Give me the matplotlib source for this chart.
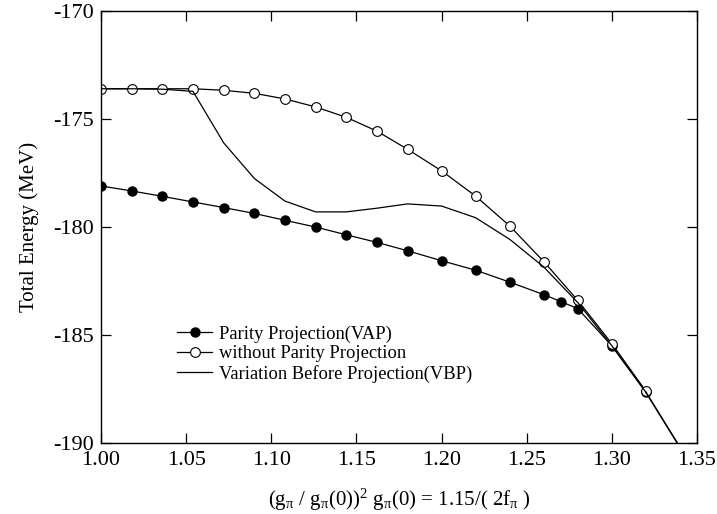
import matplotlib
matplotlib.use("Agg")
import matplotlib.pyplot as plt

plt.rcParams['font.family'] = ['Liberation Serif', 'DejaVu Serif']
plt.rcParams['mathtext.fontset'] = 'custom'
plt.rcParams['mathtext.rm'] = 'Liberation Serif'
plt.rcParams['mathtext.it'] = 'Liberation Serif'
plt.rcParams['axes.unicode_minus'] = False

# Parity projection (VAP)
vap_x = [1.00, 1.018, 1.036, 1.054, 1.072, 1.09, 1.108, 1.126, 1.144, 1.162,
         1.18, 1.20, 1.22, 1.24, 1.26, 1.27, 1.28, 1.30, 1.32]
vap_y = [-178.1, -178.33, -178.58, -178.84, -179.1, -179.37, -179.69, -180.0, -180.36, -180.71,
         -181.1, -181.56, -182.0, -182.55, -183.13, -183.45, -183.78, -185.5, -187.65]

# without parity projection
nop_x = [1.00, 1.018, 1.036, 1.054, 1.072, 1.09, 1.108, 1.126, 1.144, 1.162,
         1.18, 1.20, 1.22, 1.24, 1.26, 1.28, 1.30, 1.32]
nop_y = [-173.6, -173.6, -173.6, -173.6, -173.67, -173.81, -174.07, -174.44, -174.92, -175.56,
         -176.4, -177.4, -178.57, -179.95, -181.6, -183.4, -185.4, -187.6]

# variation before projection (VBP)
vbp_x = [1.00, 1.018, 1.036, 1.054, 1.072, 1.09, 1.108, 1.126, 1.144, 1.162,
         1.18, 1.20, 1.22, 1.24, 1.26, 1.28, 1.30, 1.32]
vbp_y = [-173.6, -173.6, -173.62, -173.72, -176.1, -177.75, -178.8, -179.3, -179.3, -179.13,
         -178.93, -179.03, -179.57, -180.57, -181.85, -183.5, -185.5, -187.65]

# common tail running off the bottom of the frame
tail_x = [1.32, 1.34]
tail_y = [-187.65, -190.2]

fig = plt.figure(figsize=(7.17, 5.14), dpi=100)
ax = fig.add_axes([0.1409, 0.1381, 0.8312, 0.8405])

ax.plot(vap_x, vap_y, color='black', lw=0.9, marker='o', ms=6.5,
        mfc='black', mec='black', label='Parity Projection(VAP)')
ax.plot(nop_x, nop_y, color='black', lw=0.9, marker='o', ms=7,
        mfc='white', mec='black', mew=0.8, label='without Parity Projection')
ax.plot(vbp_x, vbp_y, color='black', lw=0.9, label='Variation Before Projection(VBP)')
ax.plot(tail_x, tail_y, color='black', lw=1.2)

ax.set_xlim(1.0, 1.35)
ax.set_ylim(-190, -170)
ax.set_xticks([1.00, 1.05, 1.10, 1.15, 1.20, 1.25, 1.30, 1.35])
ax.set_xticklabels(['1.00', '1.05', '1.10', '1.15', '1.20', '1.25', '1.30', '1.35'])
ax.set_yticks([-190, -185, -180, -175, -170])
ax.tick_params(direction='in', top=True, right=True, length=7, width=0.9, labelsize=16)
ax.tick_params(axis='x', pad=6)
ax.tick_params(axis='y', pad=5)
for s in ax.spines.values():
    s.set_linewidth(1.0)

ax.set_ylabel('Total Energy (MeV)', fontsize=15, labelpad=10)
ax.set_xlabel(r'(g$_{\pi}$ / g$_{\pi}$(0))$^{2}$ g$_{\pi}$(0) = 1.15/( 2f$_{\pi}$ )', fontsize=15, labelpad=12)

ax.legend(loc='upper left', bbox_to_anchor=(0.1275, 0.272), frameon=False, fontsize=13.3,
          handlelength=1.9, handletextpad=0.35, labelspacing=0.14, borderpad=0, borderaxespad=0)

fig.savefig('out.png', dpi=100)
